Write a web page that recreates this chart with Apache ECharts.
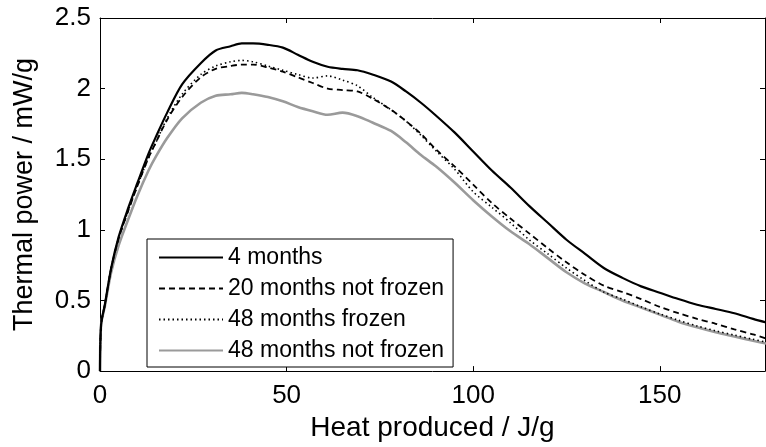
<!DOCTYPE html>
<html>
<head>
<meta charset="utf-8">
<script src="https://cdn.jsdelivr.net/npm/echarts@6/dist/echarts.min.js"></script>
<style>
html,body{margin:0;padding:0;background:#fff;}
#chart{width:766px;height:447px;}
</style>
</head>
<body>
<div id="chart"></div>
<script>
// Heat produced (J/g)
var heatProduced = [0, 0.3, 1.3, 3, 5, 7.5, 10, 13, 15, 18, 22, 27, 31, 35, 38, 41, 45, 49, 53, 57, 61, 65, 69, 73, 78, 82, 86, 90, 95, 100, 105, 110, 115, 120, 125, 130, 135, 140, 145, 150, 155, 160, 165, 170, 175, 178.5];
// Thermal power (mW/g)
var months4 = [0, 0.33, 0.47, 0.73, 0.95, 1.15, 1.33, 1.54, 1.66, 1.83, 2.03, 2.18, 2.27, 2.30, 2.32, 2.32, 2.31, 2.29, 2.24, 2.19, 2.155, 2.14, 2.13, 2.10, 2.05, 1.98, 1.90, 1.81, 1.69, 1.555, 1.42, 1.30, 1.17, 1.05, 0.93, 0.83, 0.73, 0.66, 0.60, 0.555, 0.51, 0.47, 0.44, 0.41, 0.37, 0.345];
var months20NotFrozen = [0, 0.33, 0.47, 0.73, 0.94, 1.13, 1.31, 1.51, 1.62, 1.78, 1.94, 2.08, 2.14, 2.16, 2.17, 2.17, 2.15, 2.12, 2.08, 2.04, 2.00, 1.99, 1.98, 1.93, 1.85, 1.77, 1.68, 1.57, 1.45, 1.32, 1.19, 1.08, 0.975, 0.87, 0.77, 0.68, 0.605, 0.56, 0.51, 0.455, 0.41, 0.37, 0.335, 0.295, 0.26, 0.23];
var months48Frozen = [0, 0.33, 0.47, 0.73, 0.94, 1.13, 1.31, 1.51, 1.62, 1.79, 1.96, 2.10, 2.16, 2.19, 2.20, 2.19, 2.16, 2.13, 2.10, 2.075, 2.09, 2.06, 2.02, 1.94, 1.85, 1.77, 1.67, 1.56, 1.43, 1.27, 1.16, 1.05, 0.93, 0.83, 0.73, 0.64, 0.56, 0.51, 0.455, 0.405, 0.36, 0.32, 0.285, 0.255, 0.225, 0.205];
var months48NotFrozen = [0, 0.33, 0.46, 0.70, 0.89, 1.07, 1.24, 1.42, 1.52, 1.65, 1.79, 1.90, 1.95, 1.96, 1.97, 1.96, 1.94, 1.91, 1.87, 1.84, 1.815, 1.83, 1.805, 1.76, 1.70, 1.62, 1.53, 1.45, 1.335, 1.21, 1.095, 0.99, 0.90, 0.80, 0.70, 0.62, 0.56, 0.50, 0.45, 0.40, 0.35, 0.31, 0.275, 0.245, 0.215, 0.195];
var seriesNames = ['4 months', '20 months not frozen', '48 months frozen', '48 months not frozen'];
var xTicks = [0, 50, 100, 150];
var yTicks = [0, 0.5, 1, 1.5, 2, 2.5];

function pairs(ys) {
  return heatProduced.map(function (x, i) { return [x, ys[i]]; });
}

var FONT = 'Liberation Sans, Arial, Helvetica, sans-serif';
var chart = echarts.init(document.getElementById('chart'), null, {renderer: 'canvas'});

var axisCommon = {
  axisLine: {show: true, onZero: false, lineStyle: {color: '#000', width: 1}},
  axisTick: {show: true, inside: true, length: 5, lineStyle: {color: '#000', width: 1}},
  splitLine: {show: false}
};

var option = {
  backgroundColor: '#fff',
  animation: false,
  grid: {left: 100, top: 18, right: 1, bottom: 69, containLabel: false},
  legend: {
    orient: 'vertical',
    left: 147,
    top: 239,
    data: seriesNames,
    itemWidth: 64,
    itemHeight: 14,
    itemGap: 8,
    padding: [7, 9, 5, 11],
    backgroundColor: '#fff',
    borderColor: '#000',
    borderWidth: 1,
    itemStyle: {opacity: 0, borderWidth: 0},
    textStyle: {fontFamily: FONT, fontSize: 23, color: '#000', lineHeight: 23}
  },
  xAxis: [
    Object.assign({}, axisCommon, {
      type: 'value', position: 'bottom', min: 0, max: 178.2, interval: 50,
      name: 'Heat produced / J/g', nameLocation: 'middle', nameGap: 42,
      nameTextStyle: {fontFamily: FONT, fontSize: 28, color: '#000'},
      axisLabel: {fontFamily: FONT, fontSize: 26, color: '#000', margin: 12, showMaxLabel: false,
        formatter: function (v) { return xTicks.indexOf(v) >= 0 ? String(v) : ''; }}
    }),
    Object.assign({}, axisCommon, {
      type: 'value', position: 'top', min: 0, max: 178.2, interval: 50,
      axisLabel: {show: false}
    })
  ],
  yAxis: [
    Object.assign({}, axisCommon, {
      type: 'value', position: 'left', min: 0, max: 2.5, interval: 0.5,
      name: 'Thermal power / mW/g', nameLocation: 'middle', nameGap: 62, nameRotate: 90,
      nameTextStyle: {fontFamily: FONT, fontSize: 27, color: '#000'},
      axisLabel: {fontFamily: FONT, fontSize: 26, color: '#000', margin: 9, padding: [3, 0, 0, 0],
        formatter: function (v) { return yTicks.indexOf(v) >= 0 ? String(v) : ''; }}
    }),
    Object.assign({}, axisCommon, {
      type: 'value', position: 'right', min: 0, max: 2.5, interval: 0.5,
      axisLabel: {show: false}
    })
  ],
  series: [
    {name: seriesNames[0], type: 'line', data: pairs(months4), symbol: 'none', smooth: 0.3,
      lineStyle: {color: '#000', width: 2.2, type: 'solid'}, itemStyle: {color: '#000'}, z: 5},
    {name: seriesNames[1], type: 'line', data: pairs(months20NotFrozen), symbol: 'none', smooth: 0.3,
      lineStyle: {color: '#000', width: 1.8, type: [6, 4]}, itemStyle: {color: '#000'}, z: 4},
    {name: seriesNames[2], type: 'line', data: pairs(months48Frozen), symbol: 'none', smooth: 0.3,
      lineStyle: {color: '#000', width: 1.6, type: [1.5, 3]}, itemStyle: {color: '#000'}, z: 3},
    {name: seriesNames[3], type: 'line', data: pairs(months48NotFrozen), symbol: 'none', smooth: 0.3,
      lineStyle: {color: '#9a9a9a', width: 2.6, type: 'solid'}, itemStyle: {color: '#9a9a9a'}, z: 2}
  ]
};
chart.setOption(option);
</script>
</body>
</html>
